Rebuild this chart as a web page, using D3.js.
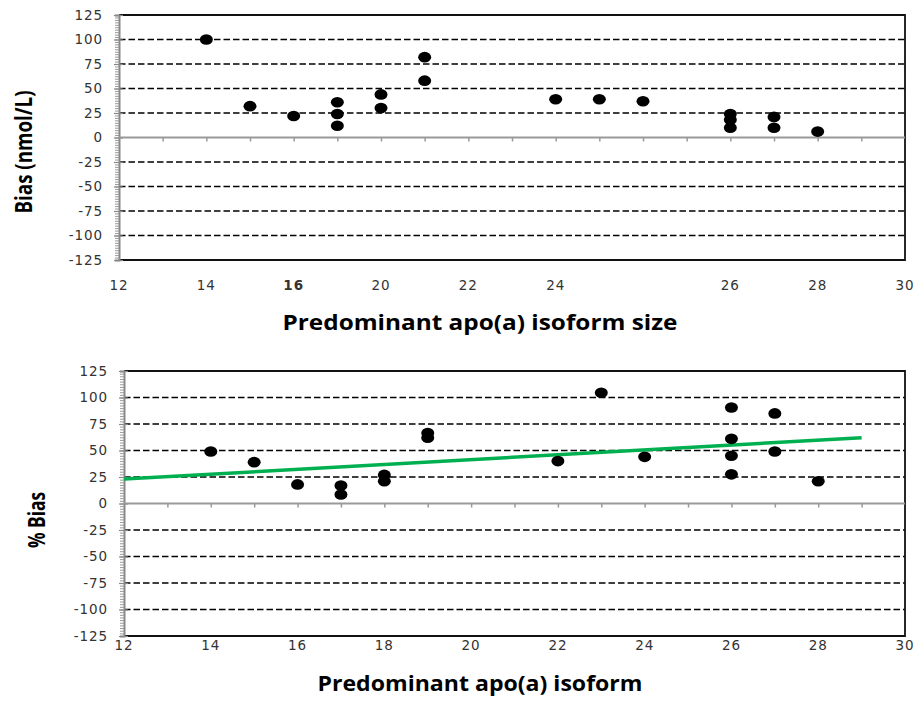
<!DOCTYPE html>
<html>
<head>
<meta charset="utf-8">
<script src="https://cdn.jsdelivr.net/npm/d3@7"></script>
<style>
  body { margin: 0; background: #fff; }
  .tick-label { font-family: "DejaVu Sans", Verdana, sans-serif; font-size: 13.5px; fill: #333; letter-spacing: 0.9px; }
  .title { font-family: "Open Sans", "Liberation Sans", sans-serif; font-weight: bold; font-size: 21px; fill: #000; }
  .ytitle { font-size: 24px; }
</style>
</head>
<body>
<div class="box"></div>
<script>
// top panel: absolute bias
const topIsoform = [14, 15, 16, 17, 17, 17, 18, 18, 19, 19, 22, 23, 24, 26, 26, 26, 27, 27, 28]
const topBias = [100, 32, 22, 36, 24, 12, 44, 30, 82, 58, 39, 39, 37, 24, 18, 10, 21, 10, 6]
// the top axis labels were edited by hand in the original
const topTickValues = [12, 14, 16, 18, 20, 22, 26, 28, 30]
const topTickLabels = ["12", "14", "16", "20", "22", "24", "26", "28", "30"]

// bottom panel: % bias with trend line
const bottomIsoform = [14, 15, 16, 17, 17, 18, 18, 19, 19, 22, 23, 24, 26, 26, 26, 26, 27, 27, 28]
const bottomPctBias = [49, 39, 18, 17, 8.5, 27, 21, 66.5, 62, 40, 104.5, 44, 90.5, 61, 45, 27.5, 85, 49, 21]
const trendX = [12, 29]
const trendY = [23, 62]
const bottomTickValues = [12, 14, 16, 18, 20, 22, 24, 26, 28, 30]
const bottomTickLabels = ["12", "14", "16", "18", "20", "22", "24", "26", "28", "30"]

const yTicks = [125, 100, 75, 50, 25, 0, -25, -50, -75, -100, -125]
const gridValues = [100, 75, 50, 25, -25, -50, -75, -100]

const width = 918
const height = 706

const svg = d3.select('.box')
              .append('svg')
              .attr('width', width)
              .attr('height', height)

function drawPanel(p) {
    const x = d3.scaleLinear().domain([12, 30]).range([p.left, p.right])
    const y = d3.scaleLinear().domain([-125, 125]).range([p.bottom, p.top])
    const g = svg.append('g')

    // dashed grid
    g.selectAll('line.grid')
        .data(gridValues).enter()
        .append('line')
        .attr('x1', p.left).attr('x2', p.right)
        .attr('y1', d => y(d)).attr('y2', d => y(d))
        .attr('stroke', '#000')
        .attr('stroke-width', 1.4)
        .attr('stroke-dasharray', '6.5,3')

    // frame: top, right, bottom black
    g.append('path')
        .attr('d', `M${p.left},${p.top}H${p.right}V${p.bottom}H${p.left}`)
        .attr('fill', 'none')
        .attr('stroke', '#111')
        .attr('stroke-width', 1.8)

    // y axis (gray) with minor ticks
    const yAxis = d3.axisLeft(y)
        .tickValues(d3.range(-125, 125.1, 2.5))
        .tickSize(4)
        .tickFormat('')
    const ya = g.append('g')
        .attr('transform', `translate(${p.left},0)`)
        .call(yAxis)
    ya.select('.domain').attr('stroke', '#888').attr('stroke-width', 2)
    ya.selectAll('.tick line').attr('stroke', '#999').attr('stroke-width', 1)

    const yMajor = d3.axisLeft(y).tickValues(yTicks).tickSize(5).tickFormat('')
    const ym = g.append('g')
        .attr('transform', `translate(${p.left},0)`)
        .call(yMajor)
    ym.select('.domain').remove()
    ym.selectAll('.tick line').attr('stroke', '#888').attr('stroke-width', 1.2).attr('x2', 4).attr('x1', -5)

    g.selectAll('text.ylab')
        .data(yTicks).enter()
        .append('text')
        .attr('class', 'tick-label')
        .attr('x', p.left - 16)
        .attr('y', d => y(d))
        .attr('dy', '0.35em')
        .attr('text-anchor', 'end')
        .text(d => d)

    // zero line with integer ticks hanging down
    const xAxis = d3.axisBottom(x)
        .tickValues(d3.range(13, 30))
        .tickSize(4)
        .tickFormat('')
    const xa = g.append('g')
        .attr('transform', `translate(0,${y(0)})`)
        .call(xAxis)
    xa.select('.domain').attr('stroke', '#999').attr('stroke-width', 2).attr('d', `M${p.left},0H${p.right}`)
    xa.selectAll('.tick line').attr('stroke', '#999').attr('stroke-width', 1.5)

    // x tick labels under the plot
    g.selectAll('text.xlab')
        .data(p.tickValues).enter()
        .append('text')
        .attr('class', 'tick-label')
        .attr('x', d => x(d))
        .attr('y', p.labelY)
        .attr('dy', '0.35em')
        .attr('text-anchor', 'middle')
        .style('font-weight', (d, i) => p.boldLabel === i ? 'bold' : null)
        .text((d, i) => p.tickLabels[i])

    if (p.trend) {
        g.append('path')
            .datum(d3.zip(p.trend[0], p.trend[1]))
            .attr('d', d3.line().x(d => x(d[0])).y(d => y(d[1])))
            .attr('stroke', '#00B050')
            .attr('stroke-width', 3.5)
            .attr('fill', 'none')
    }

    g.selectAll('ellipse')
        .data(d3.zip(p.xs, p.ys)).enter()
        .append('ellipse')
        .attr('cx', d => x(d[0]))
        .attr('cy', d => y(d[1]))
        .attr('rx', 6.5)
        .attr('ry', 5.3)
        .attr('fill', '#000')

    // the original picture is stretched sideways, so stretch titles to match
    g.append('text')
        .attr('class', 'title')
        .attr('x', 480)
        .attr('y', p.titleY)
        .attr('dy', '0.35em')
        .attr('text-anchor', 'middle')
        .attr('textLength', p.titleLen)
        .attr('lengthAdjust', 'spacingAndGlyphs')
        .text(p.xTitle)

    g.append('text')
        .attr('class', 'title ytitle')
        .attr('transform', `translate(${p.yTitleX},${p.yTitleY}) rotate(-90)`)
        .attr('dy', '0.35em')
        .attr('text-anchor', 'middle')
        .attr('textLength', p.yTitleLen)
        .attr('lengthAdjust', 'spacingAndGlyphs')
        .text(p.yTitle)
}

drawPanel({
    left: 119, right: 905, top: 15, bottom: 260,
    xs: topIsoform, ys: topBias,
    tickValues: topTickValues, tickLabels: topTickLabels, boldLabel: 2,
    labelY: 285, titleY: 323, xTitle: 'Predominant apo(a) isoform size', titleLen: 395,
    yTitle: 'Bias (nmol/L)', yTitleX: 24, yTitleY: 152, yTitleLen: 123
})

drawPanel({
    left: 124, right: 905, top: 371, bottom: 636,
    xs: bottomIsoform, ys: bottomPctBias,
    tickValues: bottomTickValues, tickLabels: bottomTickLabels,
    trend: [trendX, trendY],
    labelY: 645, titleY: 684, xTitle: 'Predominant apo(a) isoform', titleLen: 325,
    yTitle: '% Bias', yTitleX: 37, yTitleY: 520, yTitleLen: 56
})
</script>
</body>
</html>
